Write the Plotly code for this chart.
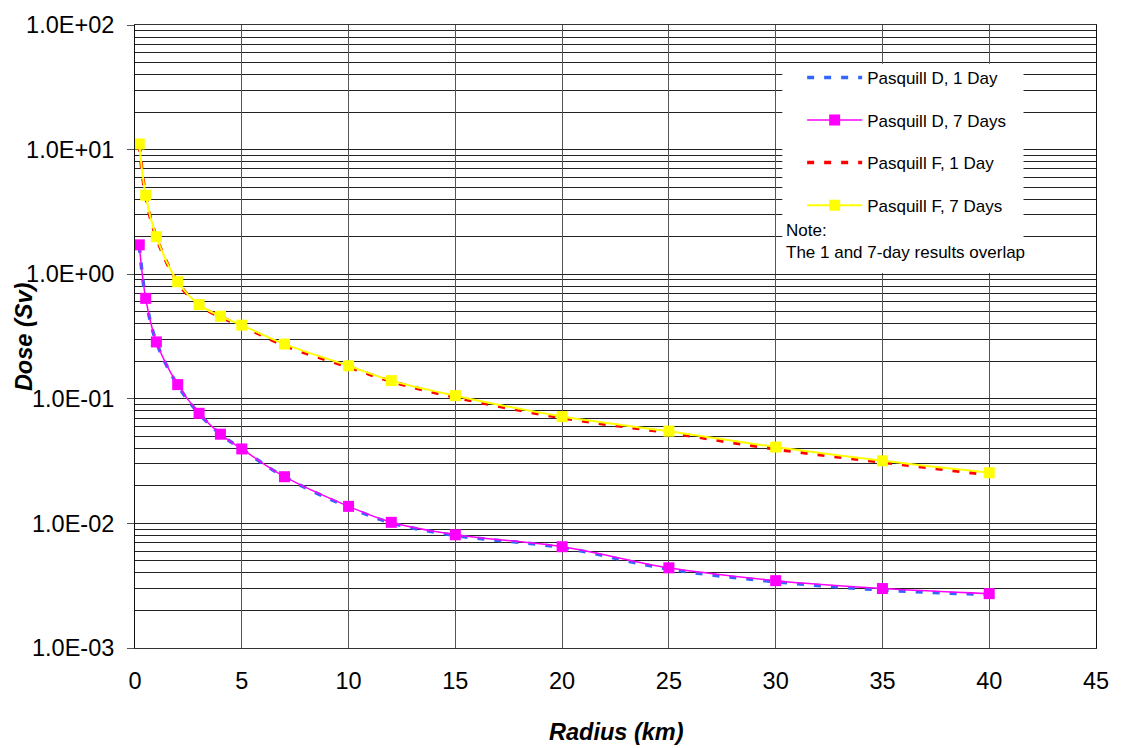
import plotly.graph_objects as go

radius_km = [0.2, 0.5, 1, 2, 3, 4, 5, 7, 10, 12, 15, 20, 25, 30, 35, 40]

dose_D_1day = [1.70, 0.64, 0.285, 0.128, 0.076, 0.052, 0.0395, 0.0236, 0.0135, 0.0101, 0.0080, 0.0064, 0.0043, 0.00340, 0.00292, 0.00268]
dose_D_7day = [1.72, 0.64, 0.286, 0.130, 0.0765, 0.052, 0.0396, 0.0237, 0.0137, 0.0102, 0.0081, 0.0065, 0.0044, 0.00347, 0.00300, 0.00273]
dose_F_1day = [11.0, 4.25, 1.98, 0.86, 0.565, 0.455, 0.385, 0.268, 0.180, 0.138, 0.103, 0.0705, 0.0535, 0.0395, 0.0310, 0.0245]
dose_F_7day = [11.1, 4.30, 2.00, 0.87, 0.57, 0.46, 0.39, 0.275, 0.184, 0.140, 0.106, 0.072, 0.055, 0.041, 0.0318, 0.0255]

y_tickvals = [1e-3, 1e-2, 1e-1, 1e0, 1e1, 1e2]
y_ticktext = ["1.0E-03", "1.0E-02", "1.0E-01", "1.0E+00", "1.0E+01", "1.0E+02"]
x_tickvals = [0, 5, 10, 15, 20, 25, 30, 35, 40, 45]

FONT = "Liberation Sans, Arial, sans-serif"
TICK_SIZE = 23.5

# plot area in pixels: x 135..1103, y 16.7..647.7
PL, PR, PT, PB = 135, 1103, 16.7, 647.7
def px(x):
    return (x - PL) / (PR - PL)
def py(y):
    return (PB - y) / (PB - PT)

fig = go.Figure()
fig.add_trace(go.Scatter(x=radius_km, y=dose_D_1day, name="Pasquill D, 1 Day", mode="lines",
                         line=dict(color="#3366FF", width=3.5, dash="7px,10px", shape="spline"),
                         legendgroup="a"))
fig.add_trace(go.Scatter(x=radius_km, y=dose_D_7day, name="Pasquill D, 7 Days", mode="lines+markers",
                         line=dict(color="#FF00FF", width=1.5, shape="spline"),
                         marker=dict(symbol="square", size=11, color="#FF00FF"),
                         legendgroup="b"))
fig.add_trace(go.Scatter(x=radius_km, y=dose_F_1day, name="Pasquill F, 1 Day", mode="lines",
                         line=dict(color="#FF0000", width=3.5, dash="7px,10px", shape="spline"),
                         legendgroup="c"))
fig.add_trace(go.Scatter(x=radius_km, y=dose_F_7day, name="Pasquill F, 7 Days", mode="lines+markers",
                         line=dict(color="#FFFF00", width=2, shape="spline"),
                         marker=dict(symbol="square", size=11, color="#FFFF00"),
                         legendgroup="d"))

# white background box behind legend and note
fig.add_shape(type="rect", xref="paper", yref="paper",
              x0=px(787), x1=px(1030), y0=py(268), y1=py(56),
              fillcolor="white", line=dict(width=0), layer="above")

fig.add_annotation(xref="paper", yref="paper", x=px(789), y=py(213),
                   xanchor="left", yanchor="top", align="left", showarrow=False,
                   text="Note:<br>The 1 and 7-day results overlap",
                   font=dict(family=FONT, size=17, color="black"))

# axis titles
fig.add_annotation(xref="paper", yref="paper", x=px(620), y=py(733),
                   xanchor="center", yanchor="middle", showarrow=False,
                   text="<b><i>Radius (km)</i></b>", font=dict(family=FONT, size=TICK_SIZE, color="black"))
fig.add_annotation(xref="paper", yref="paper", x=px(23), y=py(332),
                   xanchor="center", yanchor="middle", showarrow=False, textangle=-90,
                   text="<b><i>Dose (Sv)</i></b>", font=dict(family=FONT, size=TICK_SIZE, color="black"))

fig.update_layout(
    width=1121, height=748,
    margin=dict(l=135, r=18, t=17, b=100),
    paper_bgcolor="white", plot_bgcolor="white",
    font=dict(family=FONT, size=TICK_SIZE, color="black"),
    showlegend=True,
    legend=dict(x=px(807), y=py(52), xanchor="left", yanchor="top",
                bgcolor="rgba(0,0,0,0)", borderwidth=0,
                font=dict(family=FONT, size=17, color="black"),
                itemwidth=55, tracegroupgap=17.5),
    xaxis=dict(range=[0, 45], tickvals=x_tickvals, showgrid=True, gridcolor="#555555", gridwidth=1,
               showline=True, linecolor="#333333", linewidth=1, mirror=True, ticks="",
               zeroline=False, tickfont=dict(size=TICK_SIZE), ticklabelstandoff=12),
    yaxis=dict(type="log", range=[-3, 2], tickvals=y_tickvals, ticktext=y_ticktext,
               showgrid=True, gridcolor="#222222", gridwidth=1,
               minor=dict(dtick="D1", showgrid=True, gridcolor="#222222", gridwidth=1, ticks=""),
               showline=True, linecolor="#111111", linewidth=1, mirror=True,
               ticks="outside", ticklen=7, tickcolor="#555555",
               tickfont=dict(size=TICK_SIZE), ticklabelstandoff=8),
)

fig.write_html("out.html")
